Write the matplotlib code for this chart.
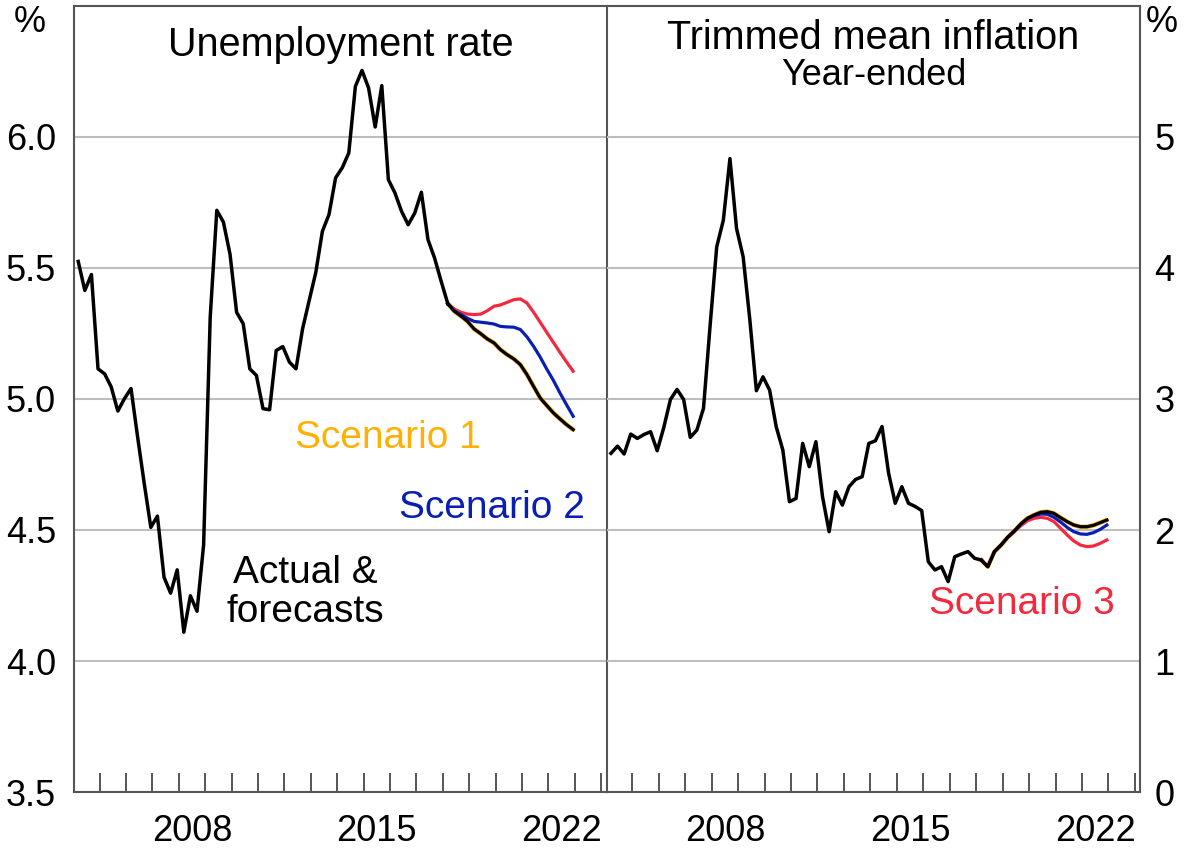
import numpy as np
import matplotlib
matplotlib.use("Agg")
import matplotlib.pyplot as plt
from matplotlib.ticker import FixedLocator, NullFormatter

plt.rcParams["font.family"] = ["Liberation Sans", "DejaVu Sans"]

# Quarterly dates, 2004 Q1 to 2022 Q4
n_quarters = 76
dates = 2004.19 + 0.25 * np.arange(n_quarters)
last_actual = 56  # 2018 Q1

# Unemployment rate, actual (%)
unemp_actual = [
    5.525, 5.414, 5.475, 5.115, 5.096, 5.046, 4.954, 5.001, 5.04, 4.855,
    4.678, 4.51, 4.553, 4.32, 4.259, 4.348, 4.11, 4.249, 4.19, 4.443,
    5.312, 5.72, 5.675, 5.553, 5.331, 5.287, 5.115, 5.09, 4.963, 4.959,
    5.185, 5.20, 5.141, 5.115, 5.268, 5.376, 5.483, 5.64, 5.704, 5.844,
    5.882, 5.939, 6.193, 6.254, 6.187, 6.038, 6.196, 5.837, 5.786, 5.716,
    5.665, 5.71, 5.789, 5.608, 5.538, 5.449, 5.364,
]
# Unemployment forecasts from 2018 Q1
unemp_scen1 = [5.364, 5.335, 5.316, 5.296, 5.267, 5.249, 5.229, 5.214, 5.188, 5.169,
               5.153, 5.131, 5.093, 5.048, 5.004, 4.975, 4.947, 4.924, 4.902, 4.883]
unemp_scen2 = [5.364, 5.335, 5.322, 5.308, 5.296, 5.293, 5.29, 5.286, 5.277, 5.275,
               5.274, 5.265, 5.237, 5.201, 5.16, 5.114, 5.071, 5.023, 4.978, 4.934]
unemp_scen3 = [5.364, 5.343, 5.331, 5.324, 5.322, 5.324, 5.337, 5.354, 5.359, 5.369,
               5.379, 5.382, 5.366, 5.331, 5.293, 5.254, 5.216, 5.178, 5.141, 5.106]

# Trimmed mean inflation, year-ended, actual (%)
infl_actual = [
    2.585, 2.64, 2.58, 2.732, 2.699, 2.729, 2.75, 2.605, 2.783, 2.996,
    3.073, 2.996, 2.707, 2.763, 2.928, 3.56, 4.161, 4.364, 4.835, 4.301,
    4.085, 3.61, 3.063, 3.169, 3.068, 2.788, 2.61, 2.216, 2.241, 2.661,
    2.483, 2.674, 2.254, 1.987, 2.292, 2.19, 2.33, 2.386, 2.407, 2.661,
    2.681, 2.79, 2.432, 2.204, 2.33, 2.204, 2.18, 2.148, 1.758, 1.695,
    1.72, 1.606, 1.796, 1.817, 1.835, 1.784, 1.771,
]
# Inflation forecasts from 2018 Q1
infl_scen1 = [1.771, 1.72, 1.835, 1.885, 1.944, 1.992, 2.046, 2.089, 2.115, 2.135,
              2.14, 2.127, 2.094, 2.064, 2.038, 2.025, 2.025, 2.036, 2.056, 2.076]
infl_scen2 = [1.771, 1.72, 1.835, 1.885, 1.944, 1.992, 2.046, 2.089, 2.11, 2.122,
              2.12, 2.097, 2.061, 2.02, 1.987, 1.97, 1.967, 1.98, 2.005, 2.038]
infl_scen3 = [1.771, 1.72, 1.835, 1.885, 1.944, 1.987, 2.033, 2.071, 2.089, 2.097,
              2.089, 2.064, 2.013, 1.962, 1.916, 1.885, 1.873, 1.878, 1.898, 1.924]

year_ticks = np.arange(2005, 2025)
year_labels = [2008, 2015, 2022]

ORANGE = "#FFB000"
BLUE = "#0A1EB4"
RED = "#F5283C"
GRID = "#BEBEBE"
SPINE = "#555555"
FS = 26
LABEL_FS = 28


def style_axis(ax):
    ax.set_xlim(2004.03, 2024.21)
    ax.patch.set_alpha(0)
    for s in ax.spines.values():
        s.set_color(SPINE)
        s.set_linewidth(1.5)
    ax.xaxis.set_major_locator(FixedLocator(year_ticks))
    ax.xaxis.set_major_formatter(NullFormatter())
    ax.xaxis.set_minor_locator(FixedLocator([y + 0.5 for y in year_labels]))
    ax.set_xticklabels([str(y) for y in year_labels], minor=True)
    ax.tick_params(axis="x", which="major", direction="in", length=14,
                   width=1.4, color=SPINE)
    ax.tick_params(axis="x", which="minor", length=0, pad=16, labelsize=FS)
    ax.tick_params(axis="y", length=0, labelsize=FS, pad=13)
    ax.grid(axis="y", color=GRID, linewidth=1.5)
    ax.set_axisbelow(True)


def plot_series(ax, actual, s1, s2, s3):
    fx = dates[last_actual:]
    ax.plot(fx, s1, color=ORANGE, lw=3.2, solid_capstyle="round")
    ax.plot(fx, s3, color=RED, lw=2.3)
    ax.plot(fx, s2, color=BLUE, lw=2.3)
    ax.plot(fx, s1, color="black", lw=2.3)
    ax.plot(dates[:last_actual + 1], actual, color="black", lw=2.5)


fig = plt.figure(figsize=(11.84, 8.48), dpi=100)
ax1 = fig.add_axes([0.0625, 0.066, 0.4499, 0.927])
ax2 = fig.add_axes([0.5124, 0.066, 0.4508, 0.927])

# Left panel: unemployment
style_axis(ax1)
plot_series(ax1, unemp_actual, unemp_scen1, unemp_scen2, unemp_scen3)
ax1.set_ylim(3.5, 6.5)
ax1.set_yticks([3.5, 4.0, 4.5, 5.0, 5.5, 6.0])
ax1.set_yticklabels(["3.5", "4.0", "4.5", "5.0", "5.5", "6.0"])
ax1.text(0.5, 0.95, "Unemployment rate", transform=ax1.transAxes,
         ha="center", va="center", fontsize=28.5)
ax1.text(2015.92, 4.85, "Scenario 1", color=ORANGE, ha="center", va="center",
         fontsize=LABEL_FS)
ax1.text(2019.86, 4.585, "Scenario 2", color=BLUE, ha="center", va="center",
         fontsize=LABEL_FS)
ax1.text(2012.78, 4.26, "Actual &\nforecasts", color="black", ha="center",
         va="center", fontsize=LABEL_FS, linespacing=1.1)

# Right panel: inflation
style_axis(ax2)
plot_series(ax2, infl_actual, infl_scen1, infl_scen2, infl_scen3)
ax2.set_ylim(0, 6)
ax2.set_yticks([0, 1, 2, 3, 4, 5])
ax2.yaxis.tick_right()
ax2.tick_params(axis="y", pad=10)
ax2.spines["left"].set_visible(False)
ax2.text(0.5, 0.959, "Trimmed mean inflation", transform=ax2.transAxes,
         ha="center", va="center", fontsize=28.5)
ax2.text(0.5, 0.912, "Year-ended", transform=ax2.transAxes,
         ha="center", va="center", fontsize=26)
ax2.text(2019.73, 1.436, "Scenario 3", color=RED, ha="center", va="center",
         fontsize=LABEL_FS)

fig.text(0.0253, 0.974, "%", ha="center", va="center", fontsize=FS)
fig.text(0.981, 0.974, "%", ha="center", va="center", fontsize=FS)

fig.savefig("out.png", dpi=100)
